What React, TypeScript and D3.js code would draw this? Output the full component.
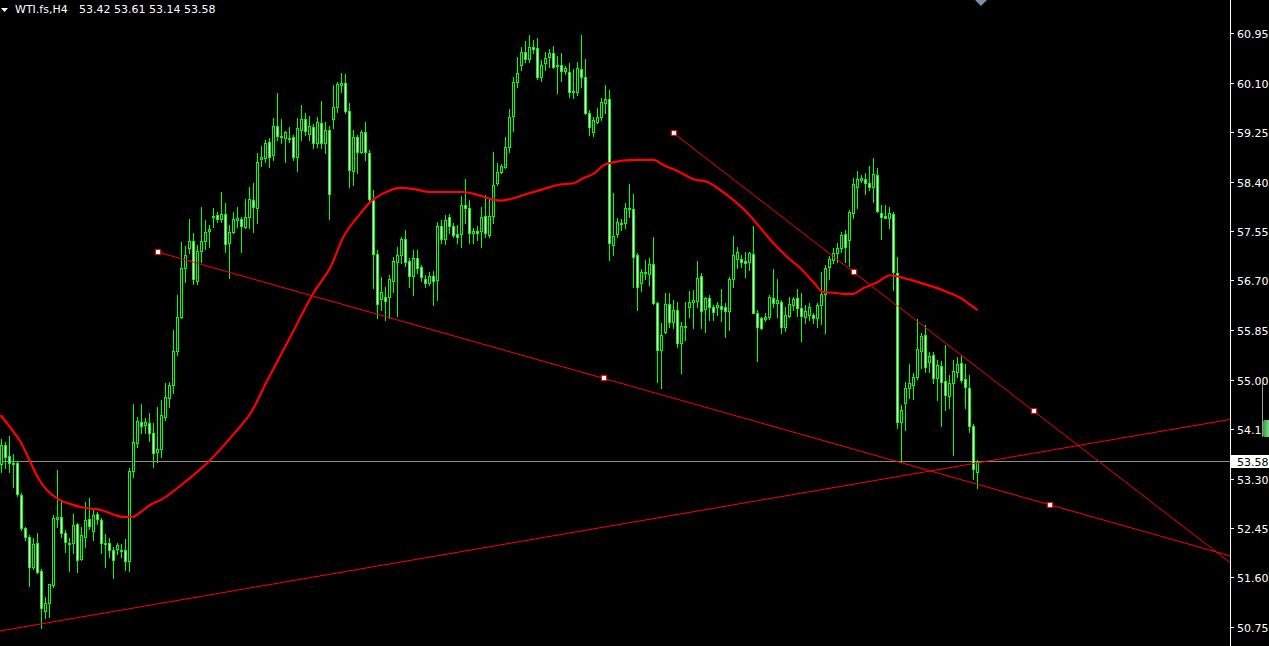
import React from 'react';
import * as d3 from 'd3';

// WTI.fs H4 candles, oldest first
const opens = [
  53.55, 53.88, 53.69, 53.57, 53.57, 53.02, 52.45, 52.30, 51.78, 52.19,
  51.71, 51.03, 51.16, 51.47, 52.60, 52.64, 52.36, 52.19, 52.19, 52.52,
  51.92, 52.30, 52.60, 52.40, 52.69, 52.59, 52.19, 52.19, 52.07, 52.09,
  52.07, 52.07, 51.88, 53.43, 53.91, 54.27, 54.22, 54.25, 54.08, 53.76,
  53.81, 54.36, 54.68, 54.91, 55.49, 56.07, 56.91, 57.26, 57.38, 56.69,
  57.21, 57.38, 57.55, 57.79, 57.82, 57.76, 57.84, 57.34, 57.53, 57.74,
  57.76, 57.62, 57.79, 58.08, 57.94, 58.79, 58.80, 59.08, 58.86, 59.35,
  59.18, 59.15, 59.15, 59.17, 58.82, 59.28, 59.47, 59.22, 59.34, 59.06,
  59.41, 59.06, 59.28, 59.47, 59.68, 60.06, 60.09, 59.61, 58.58, 59.17,
  58.91, 59.25, 58.89, 58.10, 57.15, 56.38, 56.42, 56.42, 56.69, 57.02,
  57.14, 57.41, 57.03, 56.78, 57.09, 56.93, 56.73, 56.66, 56.78, 56.71,
  57.64, 57.41, 57.79, 57.64, 57.50, 57.50, 58.00, 57.94, 57.52, 57.55,
  57.55, 57.81, 57.48, 57.81, 58.37, 58.56, 58.65, 58.99, 59.53, 60.11,
  60.40, 60.62, 60.50, 60.71, 60.69, 60.19, 60.44, 60.54, 60.61, 60.38,
  60.40, 60.30, 60.28, 59.94, 59.94, 60.33, 60.19, 59.58, 59.25, 59.42,
  59.51, 59.75, 59.82, 57.31, 57.50, 57.69, 57.69, 57.94, 57.93, 57.14,
  56.66, 56.85, 56.81, 56.98, 56.31, 55.51, 55.82, 56.30, 55.99, 56.19,
  55.63, 55.92, 56.25, 56.33, 56.35, 56.78, 56.21, 56.40, 56.25, 56.25,
  56.26, 56.25, 56.18, 56.73, 57.07, 57.07, 57.03, 57.02, 57.15, 56.14,
  56.06, 56.04, 56.07, 56.40, 56.31, 56.33, 55.90, 56.09, 56.28, 56.40,
  56.23, 56.07, 56.11, 56.11, 56.06, 56.28, 56.47, 56.93, 57.05, 57.17,
  57.26, 57.50, 57.40, 57.86, 58.31, 58.43, 58.44, 58.37, 58.31, 58.51,
  57.86, 57.81, 57.77, 57.84, 56.83, 54.27, 54.60, 54.85, 54.91, 55.04,
  55.49, 55.77, 55.30, 55.42, 55.03, 55.23, 54.97, 54.72, 54.94, 55.13,
  55.28, 55.01, 54.85, 54.20, 53.42,
];

const highs = [
  53.98, 53.93, 54.03, 53.72, 53.60, 53.05, 52.47, 52.33, 52.28, 52.36,
  51.75, 51.27, 51.49, 52.67, 53.45, 52.93, 52.42, 52.28, 52.69, 52.53,
  52.47, 52.90, 52.97, 52.76, 52.72, 52.62, 52.35, 52.28, 52.12, 52.19,
  52.18, 52.26, 53.48, 54.58, 54.36, 54.58, 54.34, 54.43, 54.25, 54.53,
  54.65, 54.94, 54.96, 55.85, 56.45, 57.36, 57.29, 57.76, 57.52, 57.31,
  57.96, 57.74, 57.65, 57.94, 57.88, 58.22, 58.03, 57.65, 57.88, 57.96,
  57.79, 58.10, 58.31, 58.37, 58.89, 59.01, 59.11, 59.15, 59.49, 59.92,
  59.47, 59.27, 59.34, 59.20, 59.49, 59.71, 59.58, 59.53, 59.39, 59.51,
  59.78, 59.42, 59.35, 60.06, 60.11, 60.26, 60.25, 59.75, 59.28, 59.20,
  59.28, 59.42, 58.94, 58.25, 57.22, 56.76, 56.59, 56.79, 57.10, 57.27,
  57.45, 57.57, 57.09, 57.22, 57.22, 56.97, 56.79, 56.85, 56.86, 57.70,
  57.74, 57.82, 57.84, 57.69, 57.65, 58.15, 58.44, 58.08, 57.60, 57.64,
  57.96, 58.17, 58.12, 58.91, 58.72, 58.70, 59.16, 59.65, 60.19, 60.54,
  60.71, 60.81, 60.92, 60.83, 60.86, 60.49, 60.62, 60.68, 60.73, 60.55,
  60.61, 60.38, 60.44, 60.33, 60.45, 60.92, 60.50, 59.63, 59.51, 59.66,
  59.83, 60.06, 59.97, 58.20, 57.77, 57.76, 58.03, 58.36, 58.19, 57.17,
  56.90, 57.05, 57.09, 57.45, 56.33, 55.97, 56.49, 56.49, 56.37, 56.33,
  55.99, 56.33, 56.52, 56.54, 57.03, 56.83, 56.42, 56.45, 56.28, 56.33,
  56.55, 56.31, 56.76, 57.47, 57.28, 57.14, 57.19, 57.19, 57.64, 56.19,
  56.07, 56.14, 56.45, 56.90, 56.73, 56.37, 56.24, 56.42, 56.42, 56.55,
  56.49, 56.28, 56.31, 56.14, 56.31, 56.85, 56.97, 57.12, 57.26, 57.34,
  57.53, 57.57, 57.91, 58.46, 58.58, 58.51, 58.55, 58.67, 58.80, 58.63,
  58.00, 58.00, 57.96, 57.88, 57.10, 54.56, 54.96, 55.27, 55.11, 56.04,
  55.80, 55.94, 55.47, 55.47, 55.34, 55.32, 55.59, 55.08, 55.34, 55.39,
  55.40, 55.27, 55.08, 54.24, 53.61,
];

const lows = [
  53.41, 53.48, 53.41, 53.15, 53.00, 52.42, 52.24, 51.45, 51.75, 51.68,
  50.73, 50.91, 50.92, 51.44, 52.47, 52.30, 52.04, 51.71, 52.02, 51.69,
  51.90, 52.12, 52.43, 52.24, 52.52, 52.02, 51.78, 51.95, 51.59, 52.00,
  51.95, 51.73, 51.71, 53.33, 53.84, 54.08, 54.08, 53.94, 53.50, 53.58,
  53.67, 54.30, 54.53, 54.77, 55.42, 56.06, 56.67, 57.17, 56.64, 56.64,
  57.02, 57.24, 57.27, 57.62, 57.70, 57.70, 57.19, 56.74, 57.52, 57.62,
  57.19, 57.60, 57.60, 57.53, 57.69, 58.67, 58.74, 58.65, 58.77, 59.11,
  59.06, 58.74, 59.08, 58.77, 58.58, 59.11, 59.20, 59.11, 58.98, 59.00,
  58.98, 58.89, 57.76, 59.32, 59.59, 59.94, 59.58, 58.31, 58.34, 58.55,
  58.89, 58.77, 58.03, 56.57, 56.06, 56.19, 56.02, 56.06, 56.50, 56.09,
  57.00, 56.95, 56.59, 56.45, 56.83, 56.69, 56.59, 56.62, 56.28, 56.37,
  57.34, 57.33, 57.52, 57.45, 57.34, 57.28, 57.69, 57.34, 57.34, 57.40,
  57.27, 57.45, 57.45, 57.69, 58.34, 58.55, 58.63, 58.91, 59.27, 60.02,
  60.31, 60.45, 60.45, 60.61, 60.16, 60.13, 60.31, 60.37, 60.35, 59.92,
  60.13, 60.25, 59.85, 59.83, 59.89, 60.02, 59.56, 59.20, 59.18, 59.41,
  59.46, 59.58, 57.05, 57.14, 57.45, 57.57, 57.60, 57.79, 56.59, 56.19,
  56.52, 56.73, 56.62, 56.30, 54.96, 54.85, 55.80, 55.90, 55.88, 55.56,
  55.11, 55.68, 56.07, 55.88, 56.24, 55.88, 55.82, 56.02, 56.02, 56.11,
  56.01, 55.73, 55.85, 56.59, 56.91, 56.93, 56.76, 56.88, 56.14, 55.32,
  55.87, 56.00, 56.04, 56.24, 56.07, 55.80, 55.83, 56.07, 56.19, 56.09,
  55.66, 55.97, 56.02, 55.97, 55.90, 55.95, 55.80, 56.73, 57.00, 57.02,
  57.19, 57.02, 56.95, 57.77, 57.94, 58.39, 58.19, 58.25, 58.05, 57.88,
  57.41, 57.77, 57.60, 56.54, 54.17, 53.58, 54.13, 54.68, 54.67, 55.01,
  55.20, 55.13, 55.13, 54.94, 54.65, 54.20, 54.48, 54.51, 53.70, 55.04,
  54.96, 54.51, 54.10, 53.29, 53.14,
];

const closes = [
  53.88, 53.67, 53.57, 53.55, 53.03, 52.45, 52.30, 51.78, 52.18, 51.69,
  51.08, 51.16, 51.49, 52.62, 52.64, 52.36, 52.21, 52.18, 52.50, 51.90,
  52.33, 52.59, 52.48, 52.67, 52.60, 52.19, 52.18, 52.07, 51.90, 52.16,
  52.06, 51.88, 53.43, 53.93, 54.29, 54.20, 54.27, 54.08, 53.74, 53.81,
  54.39, 54.70, 54.91, 55.49, 56.07, 56.91, 57.14, 57.38, 56.73, 57.21,
  57.38, 57.53, 57.58, 57.81, 57.76, 57.84, 57.33, 57.53, 57.76, 57.77,
  57.64, 57.79, 58.10, 57.96, 58.74, 58.82, 59.06, 58.82, 59.35, 59.18,
  59.17, 59.25, 59.13, 58.82, 59.32, 59.47, 59.27, 59.35, 59.06, 59.42,
  59.06, 59.28, 58.19, 59.68, 60.08, 60.09, 59.61, 58.60, 59.17, 58.91,
  59.25, 58.91, 58.10, 57.15, 56.30, 56.50, 56.35, 56.73, 57.03, 57.14,
  57.41, 57.02, 56.78, 57.09, 56.91, 56.76, 56.66, 56.78, 56.69, 57.64,
  57.41, 57.74, 57.64, 57.48, 57.45, 58.00, 57.94, 57.52, 57.55, 57.52,
  57.79, 57.52, 57.81, 58.34, 58.56, 58.67, 58.99, 59.51, 60.11, 60.26,
  60.62, 60.50, 60.71, 60.68, 60.19, 60.40, 60.52, 60.61, 60.37, 60.40,
  60.30, 60.35, 59.94, 59.95, 60.35, 60.19, 59.58, 59.34, 59.46, 59.51,
  59.77, 59.82, 57.34, 57.46, 57.70, 57.67, 57.94, 57.93, 57.10, 56.59,
  56.85, 56.83, 56.98, 56.31, 55.51, 55.76, 56.30, 55.99, 56.19, 55.63,
  55.92, 55.90, 56.33, 56.37, 56.74, 56.18, 56.40, 56.25, 56.16, 56.28,
  56.21, 56.18, 56.73, 57.14, 57.19, 57.02, 57.00, 57.17, 56.14, 55.90,
  55.88, 56.07, 56.42, 56.31, 56.37, 55.90, 56.11, 56.30, 56.38, 56.23,
  56.09, 56.18, 56.25, 56.06, 56.28, 56.47, 56.91, 57.07, 57.17, 57.26,
  57.48, 57.28, 57.88, 58.36, 58.44, 58.46, 58.37, 58.31, 58.53, 57.89,
  57.79, 57.77, 57.86, 56.85, 54.27, 54.48, 54.85, 54.94, 55.04, 55.52,
  55.75, 55.22, 55.40, 55.03, 55.25, 54.96, 54.73, 54.94, 55.15, 55.27,
  54.99, 54.87, 54.20, 53.46, 53.58,
];

// Moving average, sampled along the bar axis (bar index, price)
const maIdx = [
  -0.25, 2.25, 4.75, 7.25, 9, 10.5, 13, 15.5, 17.25, 19.75, 22.25, 24.75, 26.5, 28.5,
  30.5, 32.75, 34.75, 37.25, 39.75, 46.75, 51.5, 58.5, 62.25, 66.5, 70.5, 74, 78,
  82.25, 85.5, 89, 92.25, 94.75, 97.25, 99.75, 103, 107.25, 111.5, 115.5, 119,
  122.25, 124.75, 127.25, 131.5, 135.5, 139, 143, 145.5, 148, 150.5, 152.25, 158,
  163, 165.5, 169, 173, 176.5, 179.75, 183, 186.5, 189.75, 193, 196.5, 199.75,
  203, 205.5, 208, 210.5, 212.75, 215.5, 219, 222.25, 224, 227.25, 229.75, 233,
  236.5, 239.75, 242.25, 244,
];
const maVal = [
  54.39, 54.17, 53.93, 53.58, 53.33, 53.17, 53.0, 52.9, 52.86, 52.81, 52.78, 52.76,
  52.72, 52.67, 52.64, 52.64, 52.72, 52.85, 52.93, 53.29, 53.57, 54.1, 54.42, 54.99,
  55.51, 55.97, 56.49, 56.93, 57.45, 57.79, 58.05, 58.17, 58.25, 58.29, 58.27, 58.22,
  58.22, 58.22, 58.17, 58.1, 58.07, 58.1, 58.19, 58.27, 58.34, 58.37, 58.46, 58.53,
  58.68, 58.72, 58.77, 58.77, 58.68, 58.58, 58.44, 58.39, 58.25, 58.08, 57.86, 57.6,
  57.34, 57.1, 56.91, 56.67, 56.5, 56.49, 56.47, 56.47, 56.57, 56.67, 56.79, 56.77,
  56.71, 56.66, 56.59, 56.5, 56.4, 56.28, 56.19,
];

// Trend lines as rays: anchor A, anchor B (bar index, price)
const trendStart = [[39, 57.19], [168, 59.23], [-20, 50.45]];
const trendEnd = [[262, 52.85], [258, 54.46], [300, 54.23]];
const trendHandles = [true, true, false];

const priceTicks = [60.95, 60.1, 59.25, 58.4, 57.55, 56.7, 55.85, 55.0, 54.15, 53.3, 52.45, 51.6, 50.75];
const symbolTitle = 'WTI.fs,H4';
const lastQuote = [53.42, 53.61, 53.14, 53.58];
const bidPrice = 53.58;

const W = 1269;
const H = 646;
const PLOT_R = 1230;
const FONT = "'DejaVu Sans', Verdana, sans-serif";
const GREEN = '#00ff00';
const RED = '#ff0000';

export default function App() {
  const x = d3.scaleLinear().domain([0, 1]).range([1.5, 5.5]);
  const y = d3.scaleLinear().domain([50.75, 60.95]).range([627, 33]);

  const maLine = d3
    .line<number>()
    .x((_, k) => x(maIdx[k]))
    .y((v) => y(v))
    .curve(d3.curveMonotoneX)(maVal) as string;

  const bidY = Math.round(y(bidPrice)) - 0.5;

  const candles = opens.map((o, i) => {
    const c = closes[i];
    const cx = x(i);
    const yt = Math.round(y(Math.max(o, c)));
    const yb = Math.round(y(Math.min(o, c)));
    const yh = Math.round(y(highs[i]));
    const yl = Math.round(y(lows[i]));
    const bull = c >= o;
    return (
      <g key={i}>
        <line x1={cx} x2={cx} y1={yh} y2={yl + 1} stroke={GREEN} strokeWidth={1} />
        {yb - yt >= 1 ? (
          <rect
            x={cx - 1}
            y={yt + 0.5}
            width={2}
            height={yb - yt}
            fill={bull ? '#000000' : '#ffffff'}
            stroke={GREEN}
            strokeWidth={1}
          />
        ) : (
          <line x1={cx - 1.5} x2={cx + 1.5} y1={yt + 0.5} y2={yt + 0.5} stroke={GREEN} strokeWidth={1} />
        )}
      </g>
    );
  });

  const rays = trendStart.map((a, k) => {
    const b = trendEnd[k];
    const x1 = x(a[0]);
    const y1 = y(a[1]);
    const x2 = x(b[0]);
    const y2 = y(b[1]);
    const slope = (y2 - y1) / (x2 - x1);
    const yEnd = y1 + slope * (PLOT_R - x1);
    const handles = trendHandles[k]
      ? [
          [x1, y1],
          [(x1 + x2) / 2, (y1 + y2) / 2],
          [x2, y2],
        ]
      : [];
    return (
      <g key={k}>
        <line x1={x1} y1={y1} x2={PLOT_R} y2={yEnd} stroke={RED} strokeWidth={1} />
        {handles.map(([hx, hy], j) => (
          <rect
            key={j}
            x={Math.round(hx) - 2.5}
            y={Math.round(hy) - 2.5}
            width={5}
            height={5}
            fill="#ffffff"
            stroke={RED}
            strokeWidth={1}
          />
        ))}
      </g>
    );
  });

  return (
    <div style={{ position: 'fixed', left: 0, top: 0, width: W, height: H, background: '#000' }}>
      <svg width={W} height={H} style={{ display: 'block' }}>
        <defs>
          <clipPath id="plot-area">
            <rect x={0} y={0} width={PLOT_R} height={H} />
          </clipPath>
          <linearGradient id="meter" x1="0" x2="1" y1="0" y2="0">
            <stop offset="0" stopColor="#2f9c3f" />
            <stop offset="1" stopColor="#8fe39a" />
          </linearGradient>
        </defs>
        <rect x={0} y={0} width={W} height={H} fill="#000000" />

        <g clipPath="url(#plot-area)">
          <line x1={0} x2={PLOT_R} y1={bidY} y2={bidY} stroke="#8c8c8c" strokeWidth={1} />
          <g shapeRendering="crispEdges">{candles}</g>
          <path d={maLine} fill="none" stroke={RED} strokeWidth={2.2} />
          {rays}
        </g>

        {/* price scale */}
        <line x1={PLOT_R + 0.5} x2={PLOT_R + 0.5} y1={0} y2={H} stroke="#ffffff" strokeWidth={1} />
        {priceTicks.map((p) => {
          const ty = Math.round(y(p)) + 0.5;
          return (
            <g key={p}>
              <line x1={PLOT_R + 1} x2={PLOT_R + 4} y1={ty} y2={ty} stroke="#ffffff" strokeWidth={1} />
              <text x={1237} y={ty + 4} fill="#ffffff" fontFamily={FONT} fontSize={11}>
                {p.toFixed(2)}
              </text>
            </g>
          );
        })}
        <rect x={1231} y={bidY - 6.5} width={38} height={13} fill="#ffffff" />
        <text x={1237} y={bidY + 4} fill="#000000" fontFamily={FONT} fontSize={11}>
          {bidPrice.toFixed(2)}
        </text>

        {/* small level meter at the right edge */}
        <line x1={1262.5} x2={1262.5} y1={383} y2={437} stroke="#9a9a9a" strokeWidth={1} />
        <rect x={1263} y={420} width={7} height={17} rx={2} fill="url(#meter)" />

        {/* header */}
        <polygon points="1,8 8,8 4.5,12" fill="#ffffff" />
        <text x={15} y={13} fill="#ffffff" fontFamily={FONT} fontSize={11}>
          {symbolTitle}
        </text>
        <text x={79} y={13} fill="#ffffff" fontFamily={FONT} fontSize={11}>
          {lastQuote.map((v) => v.toFixed(2)).join(' ')}
        </text>
        <polygon points="975,0 987,0 981,6" fill="#7d8ea6" />
      </svg>
    </div>
  );
}
